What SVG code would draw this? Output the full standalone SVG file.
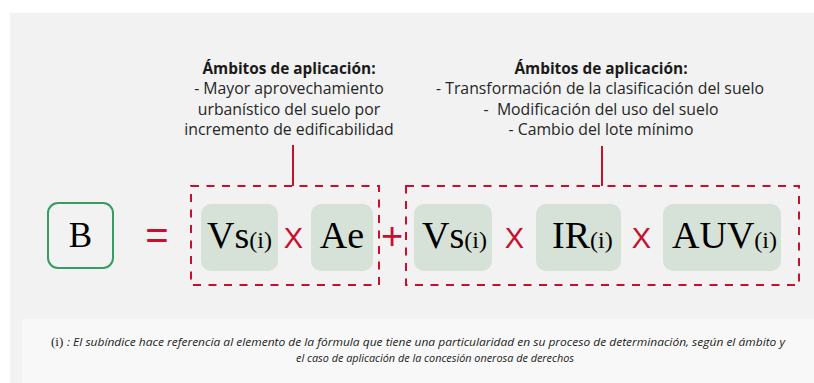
<svg xmlns="http://www.w3.org/2000/svg" width="814" height="383" viewBox="0 0 814 383">
<style>
.bg{fill:#f2f2f2}
.note{fill:#f8f8f8}
.term{fill:#d6e1d7}
.dash{fill:none;stroke:#c8102e;stroke-width:2;stroke-dasharray:8 7.5}
.conn{stroke:#c8102e;stroke-width:2;fill:none}
.math{font-family:"Liberation Serif","Times New Roman",serif;fill:#000}
.big{font-size:38px}
.sub{font-size:24px}
.op{font-family:"Liberation Sans",Arial,sans-serif;fill:#c8102e}
.ttl{font-family:"Open Sans","Noto Sans",sans-serif;font-size:15.4px;font-weight:bold;fill:#1a1a1a;text-anchor:middle}
.txt{font-family:"Open Sans","Noto Sans",sans-serif;font-size:15.8px;fill:#262626;text-anchor:middle}
.foot{font-family:"Open Sans","Noto Sans",sans-serif;font-size:11.5px;font-style:italic;fill:#222}
</style>
<rect x="0" y="0" width="814" height="383" fill="#ffffff"/>
<rect class="bg" x="10" y="13" width="804" height="370"/>
<rect class="note" x="22" y="319" width="792" height="64"/>

<g id="connectors">
  <line class="conn" x1="293" y1="145" x2="293" y2="186"/>
  <line class="conn" x1="602" y1="146" x2="602" y2="186"/>
</g>

<g id="label-left">
  <text class="ttl" x="289" y="74">Ámbitos de aplicación:</text>
  <text class="txt" x="289" y="94">- Mayor aprovechamiento</text>
  <text class="txt" x="289" y="114.5">urbanístico del suelo por</text>
  <text class="txt" x="289" y="135">incremento de edificabilidad</text>
</g>
<g id="label-right">
  <text class="ttl" x="601" y="74">Ámbitos de aplicación:</text>
  <text class="txt" x="600" y="94">- Transformación de la clasificación del suelo</text>
  <text class="txt" x="601" y="114.5" xml:space="preserve">-  Modificación del uso del suelo</text>
  <text class="txt" x="601" y="135">- Cambio del lote mínimo</text>
</g>

<g id="group-1">
  <rect class="dash" x="191" y="186" width="188" height="99"/>
</g>
<g id="group-2">
  <rect class="dash" x="406" y="186" width="393" height="99"/>
</g>

<g id="node-B">
  <rect x="48" y="203" width="65" height="65" rx="10" fill="none" stroke="#3a9a63" stroke-width="2"/>
  <text class="math" x="80.5" y="247" font-size="35" text-anchor="middle">B</text>
</g>
<g id="op-eq"><text class="op" x="157" y="249" font-size="40" text-anchor="middle">=</text></g>

<g id="node-vs1">
  <rect class="term" x="201" y="204" width="77" height="67" rx="10"/>
  <text class="math" x="207" y="248"><tspan class="big">Vs</tspan><tspan class="sub">(i)</tspan></text>
</g>
<g id="op-x1"><text class="op" x="293.5" y="248" font-size="29" text-anchor="middle">X</text></g>
<g id="node-ae">
  <rect class="term" x="311" y="204" width="62" height="67" rx="10"/>
  <text class="math big" x="342" y="248" text-anchor="middle">Ae</text>
</g>
<g id="op-plus"><text class="op" x="392" y="249" font-size="38" text-anchor="middle">+</text></g>

<g id="node-vs2">
  <rect class="term" x="414" y="204" width="78" height="67" rx="10"/>
  <text class="math" x="422" y="248"><tspan class="big">Vs</tspan><tspan class="sub">(i)</tspan></text>
</g>
<g id="op-x2"><text class="op" x="514.5" y="248" font-size="29" text-anchor="middle">X</text></g>
<g id="node-ir">
  <rect class="term" x="536" y="204" width="85" height="67" rx="10"/>
  <text class="math" x="552" y="248"><tspan class="big">IR</tspan><tspan class="sub">(i)</tspan></text>
</g>
<g id="op-x3"><text class="op" x="641.5" y="248" font-size="29" text-anchor="middle">X</text></g>
<g id="node-auv">
  <rect class="term" x="663" y="204" width="118" height="67" rx="10"/>
  <text class="math" x="672" y="248"><tspan class="big">AUV</tspan><tspan class="sub">(i)</tspan></text>
</g>

<g id="footnote">
  <text x="51" y="346" font-family="Liberation Serif,serif" font-size="13" fill="#222">(i)</text>
  <text class="foot" x="67" y="346" textLength="718" lengthAdjust="spacingAndGlyphs">: El subíndice hace referencia al elemento de la fórmula que tiene una particularidad en su proceso de determinación, según el ámbito y</text>
  <text class="foot" x="296" y="362" textLength="278" lengthAdjust="spacingAndGlyphs">el caso de aplicación de la concesión onerosa de derechos</text>
</g>
</svg>
